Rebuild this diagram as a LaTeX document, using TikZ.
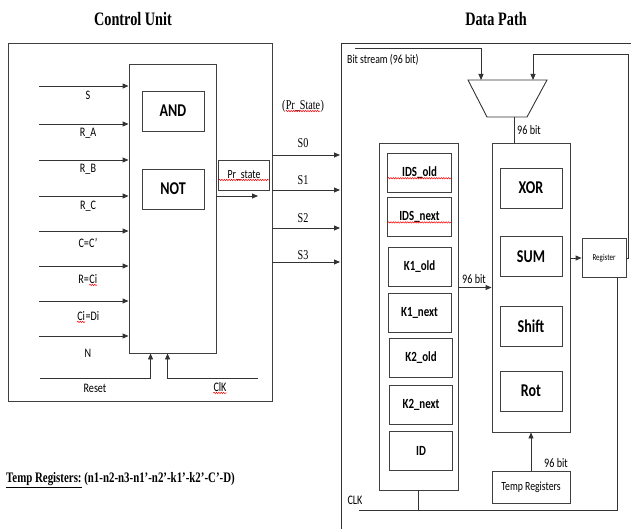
\documentclass[tikz,border=0pt]{standalone}
\usepackage{fontspec}
\usetikzlibrary{arrows.meta,positioning,decorations.pathmorphing}
\newfontfamily\calfont[FakeStretch=0.78]{Carlito}
\newfontfamily\tmsfont[FakeStretch=0.75]{Liberation Serif}
\newcommand\spl[1]{\tikz[baseline=(w.base)]{\node[inner sep=0pt] (w) {#1};\draw[red,line width=.5pt,decorate,decoration={snake,amplitude=.7pt,segment length=2.4pt}] ([yshift=-1.8pt]w.base west) -- ([yshift=-1.8pt]w.base east);}}

\begin{document}
\begin{tikzpicture}[x=1pt,y=-1pt,
  ln/.style={draw=black!80,line width=.9pt},
  arr/.style={ln,-{Triangle[length=6pt,width=5pt]}},
  blk/.style={draw=black!75,line width=.9pt,inner sep=0pt},
  lbl/.style={font=\calfont\fontsize{13}{15}\selectfont,inner sep=0pt},
  slbl/.style={font=\tmsfont\fontsize{13.5}{15}\selectfont,inner sep=0pt},
  op/.style={blk,minimum width=62pt,minimum height=40pt,font=\calfont\bfseries\fontsize{18}{20}\selectfont},
  rg/.style={blk,minimum width=63pt,minimum height=39pt,font=\calfont\bfseries\fontsize{14}{16}\selectfont}]
\useasboundingbox (0,0) rectangle (631,529);
% titles
\node[font=\tmsfont\bfseries\fontsize{19}{21}\selectfont] (cutitle) at (133,19) {Control Unit};
\node[font=\tmsfont\bfseries\fontsize{19}{21}\selectfont] (dptitle) at (496,19) {Data Path};
% control unit
\node[blk,minimum width=264pt,minimum height=358pt] (ctrl) at (140,222) {};
\node[blk,minimum width=87pt,minimum height=289pt] (fsm) at (172.5,208.5) {};
\node[op] (and) at (173,111) {AND};
\node[op] (not) at (173,189) {NOT};
\node[blk,minimum width=50pt,minimum height=30pt,font=\calfont\fontsize{12.5}{14}\selectfont] (prst) at (244,175) {\spl{Pr\_state}};
\foreach \lab/\y/\ly [count=\i] in {S/86/95,R\_A/124/133,R\_B/160/169,R\_C/196/206,C=C’/231/243,R=\spl{Ci}/266/280,\spl{Ci}=Di/301/317,N/336/353}{
  \coordinate (in\i) at (39,\y);
  \draw[arr] (in\i) -- (in\i -| fsm.west);
  \node[lbl] (inl\i) at (88,\ly) {\lab};
}
\coordinate (rst) at (40,378);
\coordinate (clk) at (258,378);
\draw[arr] (rst) -| ([xshift=22pt]fsm.south west);
\draw[arr] (clk) -| ([xshift=39pt]fsm.south west);
\node[lbl] (rstl) at (95,388) {Reset};
\node[lbl] (clkl) at (220,388) {\spl{ClK}};
\coordinate (pre) at (258,196);
\draw[arr] (fsm.east |- pre) -- (pre);
% state lines
\node[slbl] (prlbl) at (303,106) {(\spl{Pr\_State})};
\foreach \s/\y/\ly in {0/155/143,1/190/180,2/228/218,3/262/255}{
  \coordinate (s\s) at (340,\y);
  \draw[arr] (ctrl.east |- s\s) -- (s\s);
  \node[slbl] (sl\s) at (303,\ly) {S\s};
}
% data path
\coordinate (dpt) at (341,43);
\coordinate (dpb) at (341,529);
\coordinate (dpr) at (631,43);
\draw[ln] (dpb) -- (dpt) -- (dpr);
\coordinate (m1) at (468,80);
\coordinate (m2) at (547,80);
\coordinate (m3) at (527,117);
\coordinate (m4) at (487,117);
\draw[ln] (m1) -- (m2) -- (m3) -- (m4) -- cycle;
\coordinate (mi1) at (481,80);
\coordinate (mi2) at (533,80);
\coordinate (mo) at (514,117);
\node[blk,minimum width=79pt,minimum height=347pt] (regs) at (418.5,316.5) {};
\node[rg] (idso) at (419.5,172.5) {\spl{IDS\_old}};
\node[rg] (idsn) at (419.5,217) {\spl{IDS\_next}};
\node[rg] (k1o) at (419.5,266.5) {K1\_old};
\node[rg] (k1n) at (419.5,312.5) {K1\_next};
\node[rg] (k2o) at (421,358) {K2\_old};
\node[rg] (k2n) at (421,404.5) {K2\_next};
\node[rg] (id) at (421,450.5) {ID};
\node[blk,minimum width=78pt,minimum height=289pt] (ops) at (531,287.5) {};
\node[op] (xor) at (531,188) {XOR};
\node[op] (sum) at (531,256.5) {SUM};
\node[op] (shift) at (531,326.5) {Shift};
\node[op] (rot) at (531,391) {Rot};
\node[blk,minimum width=44pt,minimum height=39pt,font=\calfont\fontsize{9}{11}\selectfont] (reg) at (604,258) {Register};
\node[blk,minimum width=78pt,minimum height=32pt,font=\calfont\fontsize{12.5}{14}\selectfont] (tmp) at (531,487) {Temp Registers};
\coordinate (bs) at (355,48);
\draw[arr] (bs) -| (mi1);
\node[lbl,anchor=west,font=\calfont\fontsize{12.5}{14}\selectfont] (bsl) at (347,60) {Bit stream (96 bit)};
\coordinate (fb) at (628,54);
\draw[arr] (reg.east) -| (fb) -| (mi2);
\draw[ln] (mo) -- (mo |- ops.north);
\node[lbl,anchor=west] (mol) at (517,130) {96 bit};
\draw[arr] (regs.east |- ops.west) -- (ops.west);
\node[lbl] (busl) at (474,279) {96 bit};
\draw[arr] (ops.east |- reg.west) -- (reg.west);
\draw[arr] (tmp.north) -- (ops.south);
\node[lbl] (tmpl) at (556,463) {96 bit};
\coordinate (clkr) at (617,510);
\coordinate (clkl) at (359,510);
\draw[ln] (reg.south -| clkr) -- (clkr) -- (clkl);
\draw[ln] (regs.south) -- (regs.south |- clkl);
\node[lbl] (clkn) at (355,500) {CLK};
% note
\node[anchor=west,inner sep=0pt,font=\tmsfont\bfseries\fontsize{14.5}{16}\selectfont] (note) at (6,480) {\underline{Temp Registers:} (n1-n2-n3-n1’-n2’-k1’-k2’-C’-D)};
\end{tikzpicture}
\end{document}
